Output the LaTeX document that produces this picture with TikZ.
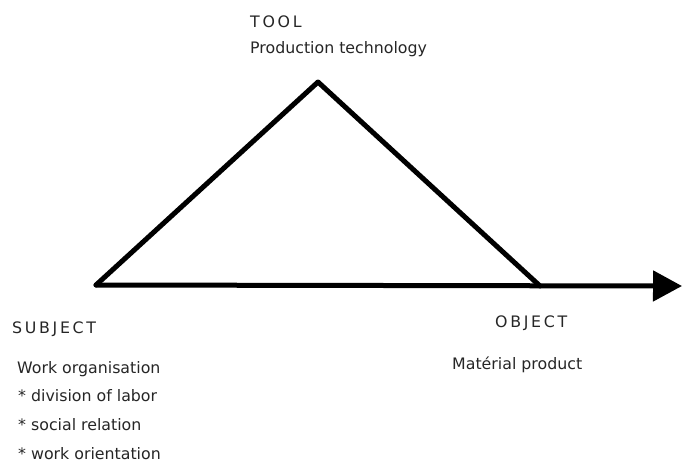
\documentclass[tikz,border=0pt]{standalone}
\usepackage{fontspec}
\setmainfont{DejaVu Sans}
\newfontfamily\capsfont[LetterSpace=17]{DejaVu Sans}
\usetikzlibrary{arrows.meta}
\begin{document}
\begin{tikzpicture}[x=1pt,y=-1pt,
  lbl/.style={inner sep=0pt,anchor=base west,font=\fontsize{15.8}{18}\selectfont,text=black!85},
  capslbl/.style={lbl,font=\fontsize{15.8}{18}\selectfont\capsfont},
  triline/.style={line width=5pt,line cap=round,line join=round}]
\useasboundingbox (0,0) rectangle (682,459);
\coordinate (S) at (96,285);
\coordinate (T) at (318,82);
\coordinate (O) at (540,286);
\coordinate (E) at (682,286);
\draw[triline] (S) -- (T) -- (O);
\draw[triline,-{Triangle[length=29pt,width=30pt]}] (S) -- (E);
\node[capslbl] (tool) at (250,27.5) {TOOL};
\node[lbl] (prod) at (250,53.5) {Production technology};
\node[capslbl] (subj) at (12,333) {SUBJECT};
\node[lbl] (work) at (17,373) {Work organisation};
\node[lbl] (div) at (18,401) {*\ division of labor};
\node[lbl] (soc) at (18,430) {*\ social relation};
\node[lbl] (ori) at (18,459) {*\ work orientation};
\node[capslbl] (obj) at (495,327) {OBJECT};
\node[lbl] (mat) at (452,369) {Matérial product};
\end{tikzpicture}
\end{document}
